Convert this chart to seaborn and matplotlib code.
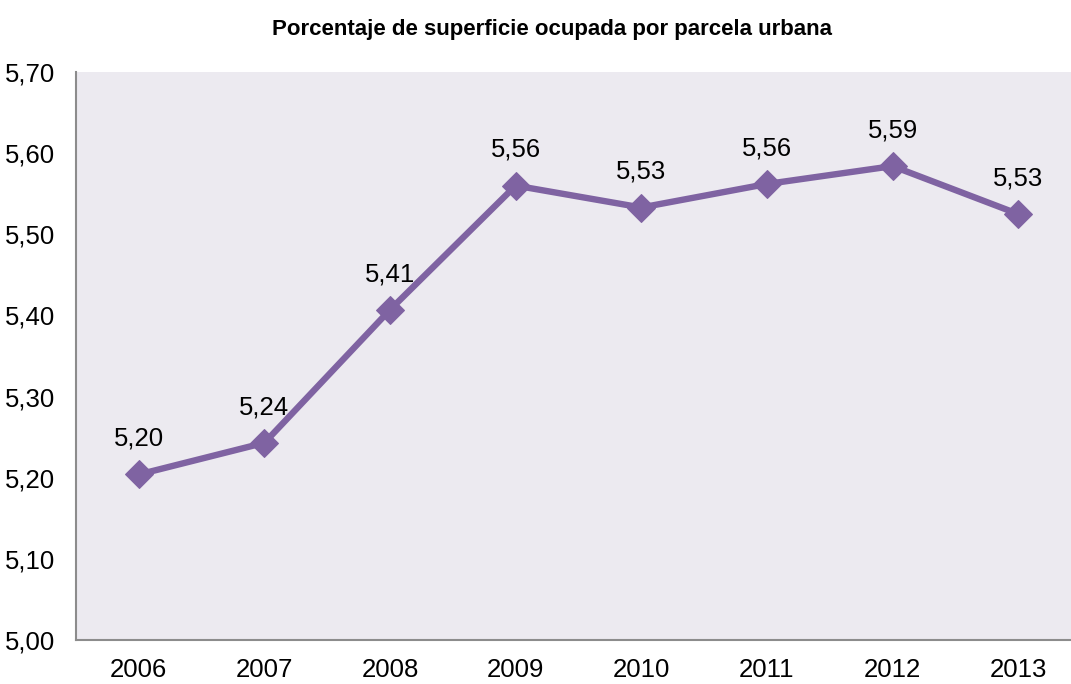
import pandas as pd
import numpy as np
import matplotlib.pyplot as plt
import seaborn as sns

# Datos
anios = ['2006', '2007', '2008', '2009', '2010', '2011', '2012', '2013']
porcentaje = [5.204, 5.243, 5.407, 5.560, 5.533, 5.562, 5.584, 5.525]
etiquetas = ['5,20', '5,24', '5,41', '5,56', '5,53', '5,56', '5,59', '5,53']
yticks = [5.00, 5.10, 5.20, 5.30, 5.40, 5.50, 5.60, 5.70]

sns.set_style('white')
plt.rcParams['font.family'] = ['Liberation Sans Narrow', 'Liberation Sans', 'DejaVu Sans']

df = pd.DataFrame({'anio': anios, 'valor': porcentaje})

fig = plt.figure(figsize=(10.71, 6.84), dpi=100)
W, H = 1071, 684
ax = fig.add_axes([76 / W, (H - 640) / H, (1081 - 76) / W, (640 - 72) / H])
ax.set_facecolor('#ECEAF0')

color = '#7F63A2'
sns.lineplot(data=df, x='anio', y='valor', ax=ax, color=color, linewidth=4.6,
             marker='D', markersize=14, markeredgecolor=color, sort=False)

for i, (v, t) in enumerate(zip(porcentaje, etiquetas)):
    ax.annotate(t, (i, v), xytext=(0, 17), textcoords='offset points',
                ha='center', va='bottom', fontsize=18.5, color='black')

ax.set_xlim(-0.5, 7.5)
ax.set_ylim(5.0, 5.7)
ax.set_yticks(yticks)
ax.set_yticklabels([f'{y:.2f}'.replace('.', ',') for y in yticks], fontsize=18.5, color='black')
ax.set_xticks(range(len(anios)))
ax.set_xticklabels(anios, fontsize=18.5, color='black')
ax.set_xticks(np.arange(-0.5, 8, 1), minor=True)
ax.tick_params(axis='x', which='major', length=0, pad=13)
ax.tick_params(axis='x', which='minor', length=5, width=1.5, color='#8C8C8C', direction='out')
ax.tick_params(axis='y', length=6, width=1.5, color='#8C8C8C', direction='out', pad=9)
ax.set_xlabel('')
ax.set_ylabel('')

for s in ['top', 'right']:
    ax.spines[s].set_visible(False)
for s in ['left', 'bottom']:
    ax.spines[s].set_color('#8C8C8C')
    ax.spines[s].set_linewidth(1.5)

fig.text(552 / W, 1 - 30 / H, 'Porcentaje de superficie ocupada por parcela urbana',
         ha='center', va='center', fontsize=16, fontweight='bold', color='black')

fig.savefig('out.png', dpi=100)
